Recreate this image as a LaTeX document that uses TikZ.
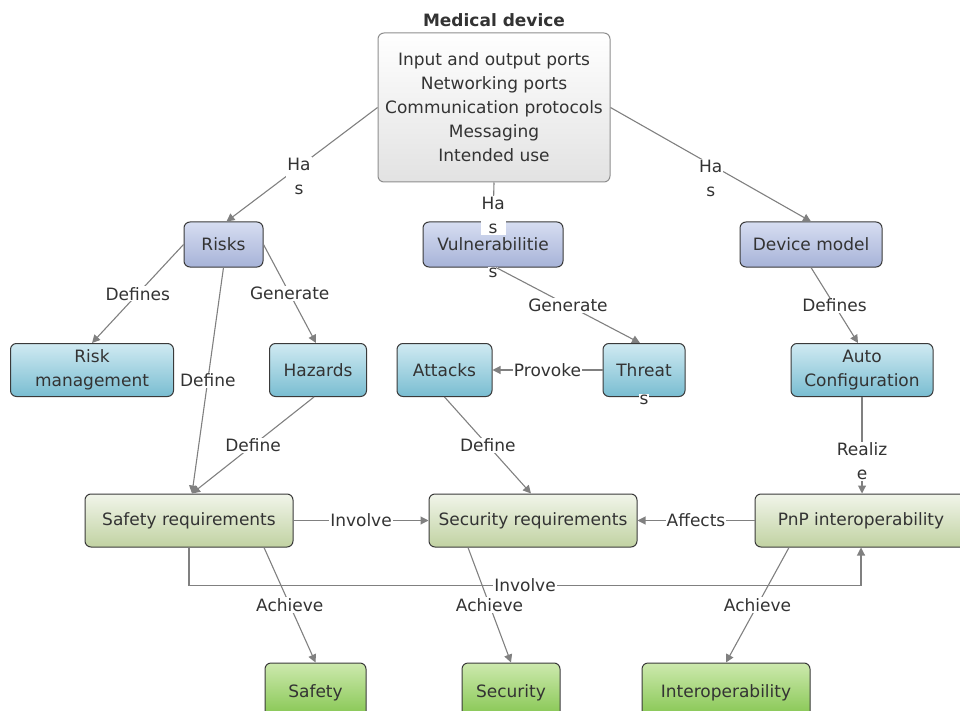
\documentclass[tikz,border=0pt]{standalone}
\usepackage{fontspec}
\setmainfont{DejaVu Sans}
\usetikzlibrary{arrows.meta,calc}

\definecolor{txt}{HTML}{333333}
\definecolor{lineC}{HTML}{808080}
\definecolor{edgeD}{HTML}{3A3A3A}
\definecolor{medB}{HTML}{8E8E8E}
\definecolor{medBot}{HTML}{E2E2E2}
\definecolor{bluT}{HTML}{D6DDF1}
\definecolor{bluB}{HTML}{A7B3D8}
\definecolor{tealT}{HTML}{D0EAF2}
\definecolor{tealB}{HTML}{79BDD1}
\definecolor{reqT}{HTML}{F1F5EA}
\definecolor{reqB}{HTML}{C1D2A2}
\definecolor{goalT}{HTML}{CDE9AE}
\definecolor{goalB}{HTML}{7DC246}

\begin{document}
\begin{tikzpicture}[x=1pt,y=-1pt,
  every node/.style={font=\fontsize{17}{24}\selectfont, text=txt},
  box/.style={draw=edgeD, line width=1pt, rounded corners=6pt, align=center, inner sep=2pt},
  bluebox/.style={box, top color=bluT, bottom color=bluB, minimum height=45pt},
  tealbox/.style={box, top color=tealT, bottom color=tealB, minimum height=53pt},
  reqbox/.style={box, top color=reqT, bottom color=reqB, minimum height=53pt, minimum width=208pt},
  goalbox/.style={box, top color=goalT, bottom color=goalB, minimum height=60pt},
  conn/.style={draw=lineC, line width=1.1pt, -{Triangle[length=8pt,width=8pt]}},
  lbl/.style={fill=white, inner sep=1pt, align=center},
]
\useasboundingbox (0,0) rectangle (960,711);
\clip (0,0) rectangle (960,711);

% device description
\node[font=\fontsize{17}{24}\selectfont\bfseries] (title) at (494,20) {Medical device};
\node[box, draw=medB, top color=white, bottom color=medBot,
      minimum width=232pt, minimum height=149pt] (med) at (494,107.5)
  {Input and output ports\\Networking ports\\Communication protocols\\Messaging\\Intended use};

% second row
\node[bluebox, minimum width=79pt] (risks) at (223.5,244.5) {Risks};
\node[bluebox, minimum width=140pt, label={[lbl,label distance=-1pt]below:s}] (vuln) at (493,244.5) {Vulnerabilitie};
\node[bluebox, minimum width=142pt] (device) at (811,244.5) {Device model};

% third row
\node[tealbox, minimum width=163pt] (riskm) at (92,370) {Risk\\management};
\node[tealbox, minimum width=97pt] (hazards) at (318,370) {Hazards};
\node[tealbox, minimum width=95pt] (attacks) at (444.5,370) {Attacks};
\node[tealbox, minimum width=82pt, label={[lbl,label distance=-3pt]below:s}] (threats) at (644,370) {Threat};
\node[tealbox, minimum width=142pt] (auto) at (862,370) {Auto\\Configuration};

% requirements
\node[reqbox] (safreq) at (189,520.5) {Safety requirements};
\node[reqbox] (secreq) at (533,520.5) {Security requirements};
\node[reqbox, minimum width=212pt] (pnp) at (861,520.5) {PnP interoperability};

% goals
\node[goalbox, minimum width=101pt] (safety) at (315.5,693) {Safety};
\node[goalbox, minimum width=98pt] (security) at (511,693) {Security};
\node[goalbox, minimum width=168pt] (interop) at (726,693) {Interoperability};

% connectors
\draw[conn] (med.west) -- node[lbl,pos=.52,yshift=-10pt]{Ha\\s} ([xshift=3pt]risks.north);
\draw[conn] (med.south) -- node[lbl,pos=.85]{Ha\\s} (vuln.north);
\draw[conn] (med.east) -- node[lbl,pos=.5,yshift=-14pt]{Ha\\s} (device.north);

\draw[conn] (risks.west) -- node[lbl]{Defines} (riskm.north);
\draw[conn] (risks.east) -- node[lbl]{Generate} ([xshift=-2pt]hazards.north);
\draw[conn] (risks.south) -- node[lbl]{Define} ([xshift=3pt]safreq.north);
\draw[conn] ([xshift=-4pt]hazards.south) -- node[lbl]{Define} ([xshift=3pt]safreq.north);

\draw[conn] ([xshift=3pt]vuln.south) -- node[lbl]{Generate} ([xshift=-4pt]threats.north);
\draw[conn] (threats.west) -- node[lbl]{Provoke} (attacks.east);
\draw[conn] (attacks.south) -- node[lbl]{Define} ([xshift=-2pt]secreq.north);

\draw[conn] (device.south) -- node[lbl]{Defines} ([xshift=-4pt]auto.north);
\draw[conn] (auto.south) -- node[lbl,pos=.67]{Realiz\\e} (auto.south |- pnp.north);

\draw[conn] (safreq.east) -- node[lbl]{Involve} (secreq.west);
\draw[conn] (pnp.west) -- node[lbl]{Affects} (secreq.east);
\draw[conn] (safreq.south) -- ++(0,38) coordinate (via)
  -- node[lbl]{Involve} (via -| pnp.south) -- (pnp.south);

\draw[conn] ([xshift=75pt]safreq.south) -- node[lbl]{Achieve} (safety.north);
\draw[conn] ([xshift=-65pt]secreq.south) -- node[lbl]{Achieve} (security.north);
\draw[conn] ([xshift=-72pt]pnp.south) -- node[lbl]{Achieve} (interop.north);
\end{tikzpicture}
\end{document}
